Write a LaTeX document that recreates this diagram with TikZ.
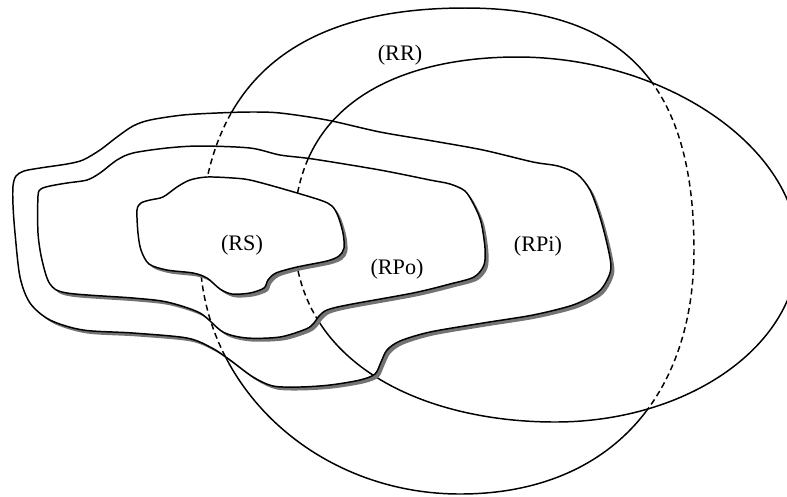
\documentclass[tikz,border=0pt]{standalone}
\usepackage{fontspec}
\setmainfont{Liberation Serif}
\begin{document}
\begin{tikzpicture}[x=0.01cm,y=-0.01cm,line width=0.42pt,line join=round,
  dsh/.style={dash pattern=on 1.7pt off 1.1pt},
  shadowfill/.style={fill=black!55},
  lbl/.style={font=\fontsize{6.3}{7}\selectfont,inner sep=0pt},
  rrpath/.style={insert path={(200,252) .. controls (200,89) and (288,8) .. (465,8)
    .. controls (623,8) and (694,83) .. (694,250)
    .. controls (694,401) and (605,494) .. (460,494)
    .. controls (316,494) and (200,386) .. (200,252) -- cycle}},
  elpath/.style={insert path={(294,232) .. controls (294,92) and (417,57) .. (517,57)
    .. controls (666,57) and (798,148) .. (798,250)
    .. controls (798,345) and (689,422) .. (555,422)
    .. controls (425,422) and (294,365) .. (294,232) -- cycle}},
  bopath/.style={insert path={plot[smooth cycle,tension=0.5] coordinates {
    (13,186) (16,176) (24,171) (40,168) (67,164) (83,160) (100,150) (117,137)
    (133,126) (150,120) (183,115) (217,113) (250,112) (280,113) (327,120)
    (380,132) (433,141) (483,150) (533,162) (558,166) (577,174) (590,190)
    (600,217) (608,248) (611,268) (606,282) (597,293) (573,305) (533,315)
    (483,323) (430,332) (400,341) (387,350) (381,362) (375,374) (360,380)
    (330,385) (300,387) (273,386) (253,377) (230,360) (212,348) (187,338)
    (133,333) (83,330) (50,320) (30,303) (20,277) (15,233) (13,205)}}},
  bmpath/.style={insert path={plot[smooth cycle,tension=0.5] coordinates {
    (38,196) (41,189) (50,186) (67,183) (87,180) (100,173) (117,160) (133,153)
    (167,148) (200,146) (250,148) (280,155) (313,159) (380,170) (430,180)
    (450,184) (465,191) (474,205) (481,222) (485,248) (484,265) (474,277)
    (450,284) (413,293) (347,305) (327,310) (319,316) (314,323) (306,329)
    (280,337) (247,338) (223,332) (200,313) (167,302) (133,298) (67,293)
    (50,284) (42,260) (38,233)}}},
  bspath/.style={insert path={plot[smooth cycle,tension=0.5] coordinates {
    (137,210) (141,203) (150,200) (163,197) (177,187) (190,180) (207,177)
    (233,178) (250,180) (280,188) (320,200) (332,206) (338,216) (343,233)
    (344,248) (339,256) (327,261) (297,267) (276,273) (268,280) (264,288)
    (250,293) (232,294) (220,289) (207,278) (193,273) (167,270) (149,264)
    (141,250) (138,233)}}}
]
\useasboundingbox (0,0) rectangle (787,496);
% RR circle, solid
\draw[rrpath];
% the ellipse hides the right part of the circle
\fill[white,elpath];
\begin{scope}
  \clip[elpath];
  \draw[dsh,rrpath];
\end{scope}
\draw[elpath];
% outer blob (RPi)
\begin{scope}[shift={(3.4,3.4)}]
  \fill[shadowfill,bopath];
\end{scope}
\fill[white,bopath];
\begin{scope}
  \clip[bopath];
  \draw[dsh,rrpath];
  \draw[elpath];
\end{scope}
\draw[bopath];
% middle blob (RPo)
\begin{scope}[shift={(3.4,3.4)}]
  \fill[shadowfill,bmpath];
\end{scope}
\fill[white,bmpath];
\begin{scope}
  \clip[bmpath];
  \draw[dsh,rrpath];
  \draw[dsh,elpath];
\end{scope}
\draw[bmpath];
% inner blob (RS)
\begin{scope}[shift={(3.4,3.4)}]
  \fill[shadowfill,bspath];
\end{scope}
\fill[white,bspath];
\draw[bspath];
% labels
\node[lbl] (lrr) at (400,55) {(RR)};
\node[lbl] (lrs) at (242,245) {(RS)};
\node[lbl] (lrpo) at (397,269) {(RPo)};
\node[lbl] (lrpi) at (538,246) {(RPi)};
\end{tikzpicture}
\end{document}
